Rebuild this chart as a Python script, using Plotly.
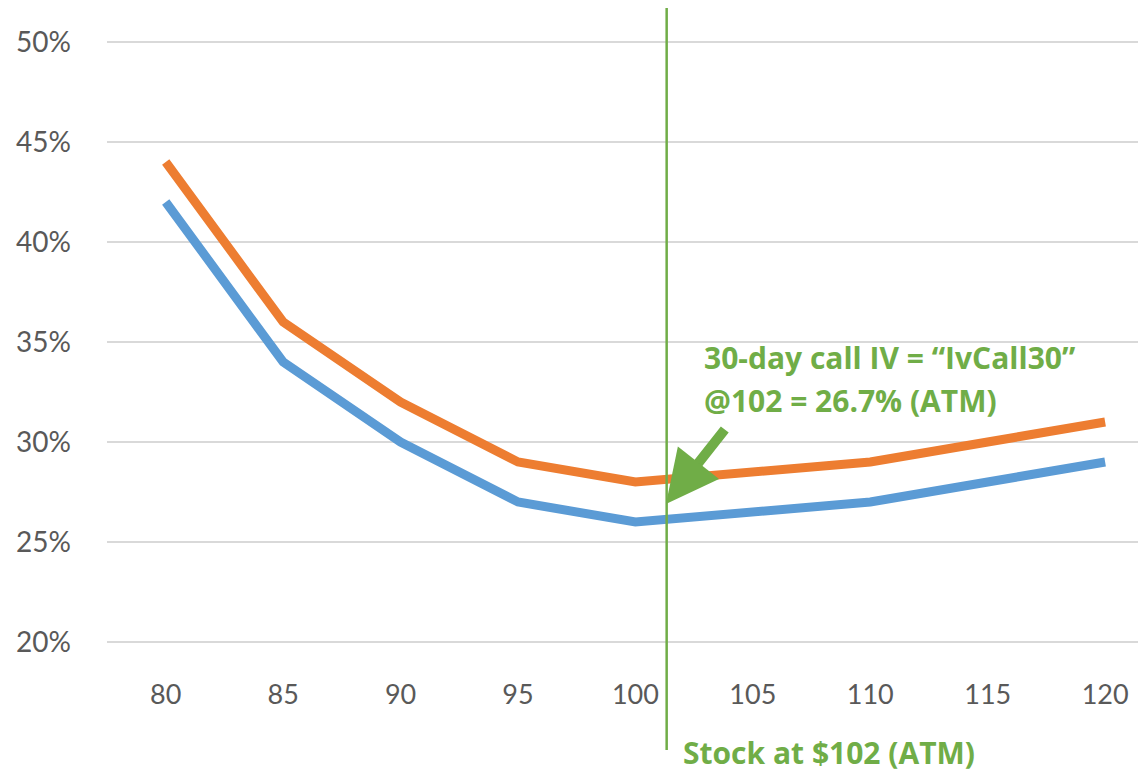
import plotly.graph_objects as go

strikes = [80, 85, 90, 95, 100, 105, 110, 115, 120]
iv_orange = [44, 36, 32, 29, 28, 28.5, 29, 30, 31]
iv_blue = [42, 34, 30, 27, 26, 26.5, 27, 28, 29]
y_ticks = [20, 25, 30, 35, 40, 45, 50]
y_tick_labels = ["20%", "25%", "30%", "35%", "40%", "45%", "50%"]

ORANGE = "#ED7D31"
BLUE = "#5B9BD5"
GREEN = "#70AD47"
GRAY = "#595959"
FONT = "Lato"
NOTE_FONT = "Open Sans"

fig = go.Figure()
fig.add_trace(go.Scatter(x=strikes, y=iv_orange, mode="lines",
                         line=dict(color=ORANGE, width=9), hoverinfo="skip"))
fig.add_trace(go.Scatter(x=strikes, y=iv_blue, mode="lines",
                         line=dict(color=BLUE, width=9), hoverinfo="skip"))

atm_x = 101.33
fig.add_shape(type="line", xref="x", yref="paper", x0=atm_x, x1=atm_x,
              y0=-0.1755, y1=1.053, line=dict(color=GREEN, width=2.5), layer="above")

fig.add_annotation(x=101.3, y=26.9, xref="x", yref="y", ax=60, ay=-76,
                   axref="pixel", ayref="pixel", text="", showarrow=True,
                   arrowhead=2, arrowsize=1.05, arrowwidth=10, arrowcolor=GREEN)

fig.add_annotation(x=0.5726, y=34.25, xref="paper", yref="y", xanchor="left",
                   yanchor="middle", showarrow=False,
                   text="<b>30-day call IV = \u201cIvCall30\u201d</b>",
                   font=dict(family=NOTE_FONT, size=30, color=GREEN))
fig.add_annotation(x=0.5726, y=32.1, xref="paper", yref="y", xanchor="left",
                   yanchor="middle", showarrow=False,
                   text="<b>@102 = 26.7% (ATM)</b>",
                   font=dict(family=NOTE_FONT, size=30, color=GREEN))
fig.add_annotation(x=0.5524, y=-0.179, xref="paper", yref="paper", xanchor="left",
                   yanchor="middle", showarrow=False,
                   text="<b>Stock at $102 (ATM)</b>",
                   font=dict(family=NOTE_FONT, size=30, color=GREEN))

fig.update_layout(
    width=1138, height=764,
    margin=dict(l=99, r=0, t=32, b=128),
    paper_bgcolor="white", plot_bgcolor="white",
    showlegend=False,
    font=dict(family=FONT, size=28, color=GRAY),
    xaxis=dict(range=[77.5, 121.74], tickvals=strikes, ticktext=[str(s) for s in strikes],
               showgrid=False, zeroline=False, showline=False, ticks="",
               ticklabelstandoff=32,
               tickfont=dict(family=FONT, size=27, color=GRAY)),
    yaxis=dict(range=[19.9, 50.1], tickvals=y_ticks, ticktext=y_tick_labels,
               showgrid=True, gridcolor="#D9D9D9", gridwidth=1.5,
               zeroline=False, showline=False, ticks="",
               ticklabelstandoff=35,
               tickfont=dict(family=FONT, size=28, color=GRAY)),
)

fig.write_html("out.html")
